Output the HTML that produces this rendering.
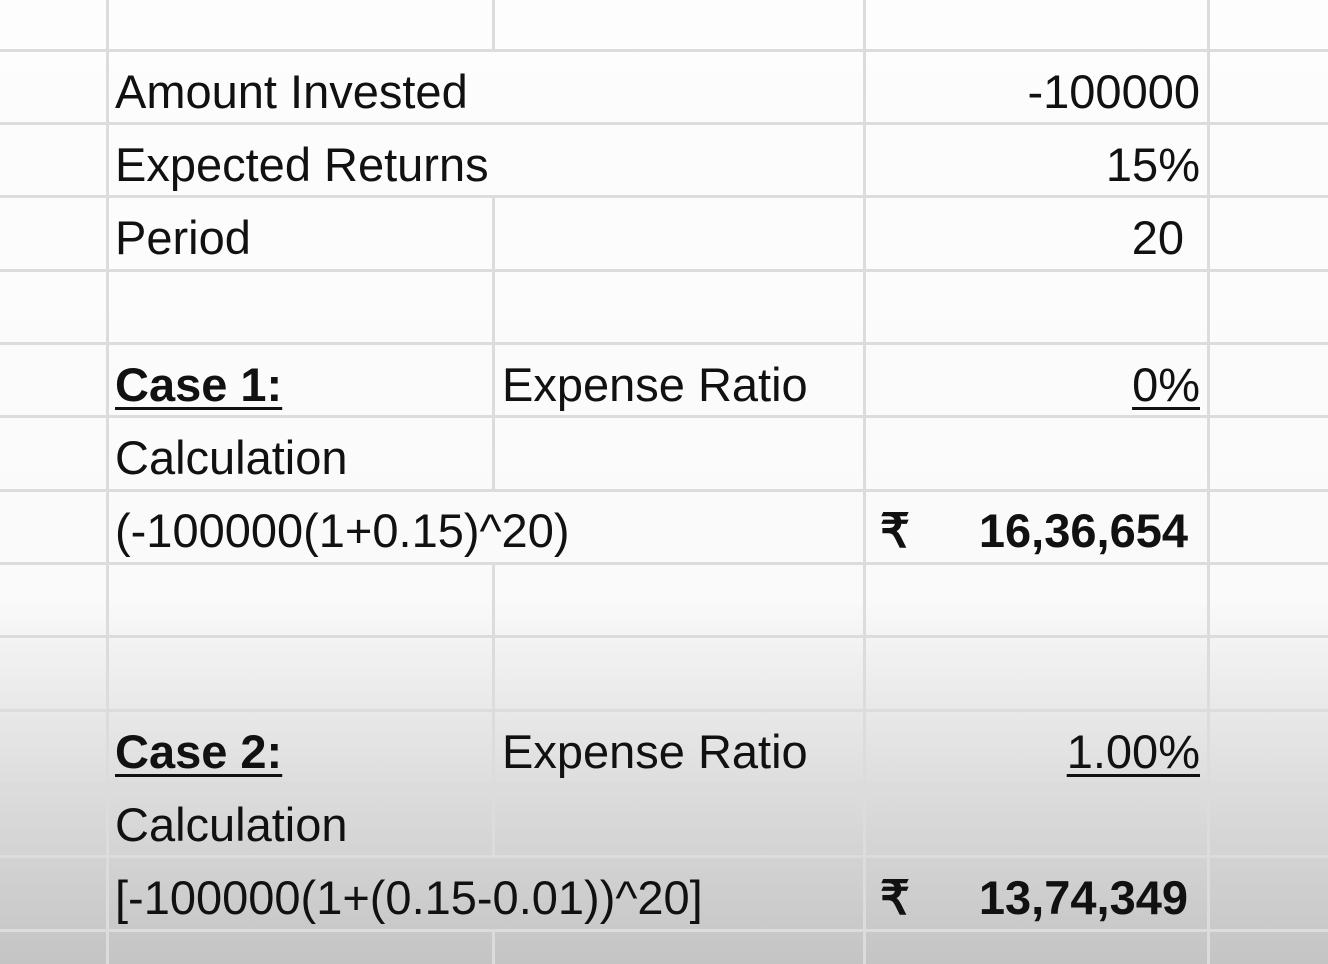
<!DOCTYPE html>
<html><head><meta charset="utf-8"><style>
body{margin:0;width:1328px;height:964px;overflow:hidden;font-family:"Liberation Sans",sans-serif;}
#sheet{position:absolute;left:0;top:0;width:1328px;height:964px;background:linear-gradient(to bottom,#fdfdfd 0px,#fafafa 600px,#f0f0f0 660px,#e4e4e4 740px,#d8d8d8 820px,#cdcdcd 900px,#c4c4c4 964px);}
.h{position:absolute;left:0;width:1328px;height:3px;background:#dcdcdc;}
.v{position:absolute;width:3px;background:#dcdcdc;}
.t{position:absolute;font-size:47px;color:#111;line-height:73px;white-space:nowrap;}
.r{text-align:right;}
.b{font-weight:bold;}
.u{text-decoration:underline;text-decoration-thickness:3px;text-underline-offset:6px;}
</style></head><body>
<div id="sheet">
<div class="v" style="left:106px;top:0;height:964px"></div>
<div class="v" style="left:492px;top:0;height:50px"></div>
<div class="v" style="left:492px;top:196px;height:294px"></div>
<div class="v" style="left:492px;top:563px;height:294px"></div>
<div class="v" style="left:492px;top:930px;height:34px"></div>
<div class="v" style="left:863px;top:0;height:964px"></div>
<div class="v" style="left:1207px;top:0;height:964px"></div>
<div class="h" style="top:49px"></div>
<div class="h" style="top:122px"></div>
<div class="h" style="top:195px"></div>
<div class="h" style="top:269px"></div>
<div class="h" style="top:342px"></div>
<div class="h" style="top:415px"></div>
<div class="h" style="top:489px"></div>
<div class="h" style="top:562px"></div>
<div class="h" style="top:635px"></div>
<div class="h" style="top:709px"></div>
<div class="h" style="top:782px"></div>
<div class="h" style="top:855px"></div>
<div class="h" style="top:929px"></div>

<div class="t" style="left:115px;top:55px">Amount Invested</div>
<div class="t r" style="right:128px;top:55px">-100000</div>
<div class="t" style="left:115px;top:128px">Expected Returns</div>
<div class="t r" style="right:128px;top:128px">15%</div>
<div class="t" style="left:115px;top:201px">Period</div>
<div class="t r" style="right:144px;top:201px">20</div>

<div class="t b u" style="left:115px;top:348px">Case 1:</div>
<div class="t" style="left:502px;top:348px">Expense Ratio</div>
<div class="t r u" style="right:128px;top:348px">0%</div>
<div class="t" style="left:115px;top:421px">Calculation</div>
<div class="t" style="left:115px;top:494px">(-100000(1+0.15)^20)</div>
<div class="t b" style="left:880px;top:494px">₹</div>
<div class="t b r" style="right:140px;top:494px">16,36,654</div>

<div class="t b u" style="left:115px;top:715px">Case 2:</div>
<div class="t" style="left:502px;top:715px">Expense Ratio</div>
<div class="t r u" style="right:128px;top:715px">1.00%</div>
<div class="t" style="left:115px;top:788px">Calculation</div>
<div class="t" style="left:115px;top:861px">[-100000(1+(0.15-0.01))^20]</div>
<div class="t b" style="left:880px;top:861px">₹</div>
<div class="t b r" style="right:140px;top:861px">13,74,349</div>
</div>
</body></html>
